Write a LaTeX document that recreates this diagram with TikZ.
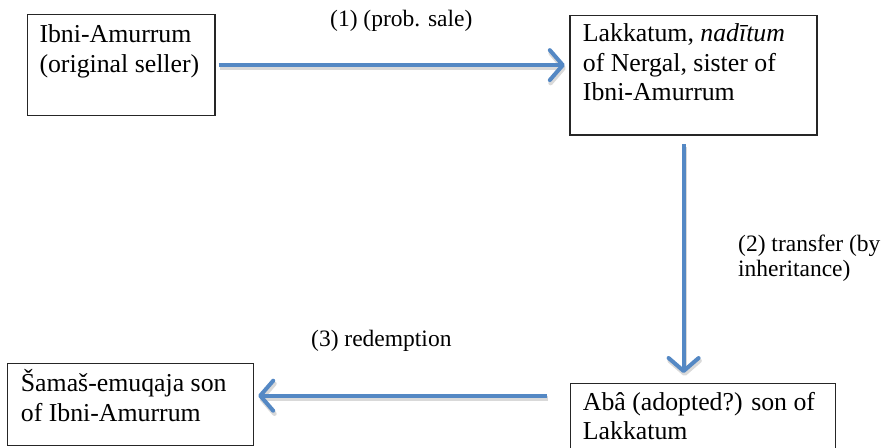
\documentclass[tikz,border=0pt]{standalone}
\usepackage{fontspec}
\setmainfont{Liberation Serif}
\usetikzlibrary{arrows.meta}
\definecolor{arrblue}{RGB}{84,136,196}
\tikzset{
  box/.style={draw=black!85, line width=1.2pt, rectangle, inner sep=0pt, anchor=north west},
  boxtext/.style={inner sep=0pt, anchor=base west, font=\fontsize{25.8}{29.3}\selectfont},
  lbltext/.style={inner sep=0pt, anchor=base west, font=\fontsize{23.5}{25}\selectfont},
  arr/.style={draw=arrblue, line width=4pt,
    -{Straight Barb[length=13pt,width=30pt,round]},
    preaction={draw=black!15, line width=4.5pt, transform canvas={xshift=1pt,yshift=-3pt}}}
}
\newcommand{\lines}[1]{\begin{tabular}[t]{@{}l@{}}#1\end{tabular}}
\begin{document}
\begin{tikzpicture}[x=1pt,y=-1pt]
\useasboundingbox (0,0) rectangle (882,447);
% boxes
\node[box, minimum width=187.5pt, minimum height=101pt] (b1) at (26.8,14) {};
\node[box, minimum width=247pt, minimum height=119.6pt] (b2) at (569.3,14.7) {};
\node[box, minimum width=246pt, minimum height=82pt] (b3) at (7,363) {};
\node[box, minimum width=265.5pt, minimum height=76pt] (b4) at (569.5,383) {};
% texts
\node[boxtext] (t1) at (39.3,42.7) {\lines{Ibni-Amurrum\\(original seller)}};
\node[boxtext] (t2) at (582.7,41.7) {\lines{Lakkatum, \textit{nadītum}\\of Nergal, sister of\\Ibni-Amurrum}};
\node[boxtext] (t3) at (20.7,391.7) {\lines{Šamaš-emuqaja son\\of Ibni-Amurrum}};
\node[boxtext] (t4) at (582.7,410) {\lines{Abâ (adopted?) son of\\Lakkatum}};
% labels
\node[lbltext] (l1) at (330,26.5) {(1) (prob. sale)};
\node[lbltext] (l2) at (738,251.5) {\lines{(2) transfer (by\\inheritance)}};
\node[lbltext] (l3) at (311,346.5) {(3) redemption};
% connectors
\draw[arr, shorten <=3pt, shorten >=4.5pt] (b1.east) -- (b1.east -| b2.west);
\coordinate (s2) at ([xshift=-9.8pt]b2.south);
\draw[arr, shorten <=8.7pt, shorten >=10pt] (s2) -- (s2 |- b4.north);
\coordinate (s3) at ([yshift=-12.7pt]b4.north west);
\draw[arr, shorten <=22.5pt, shorten >=4pt] (s3) -- (s3 -| b3.east);
\end{tikzpicture}
\end{document}
